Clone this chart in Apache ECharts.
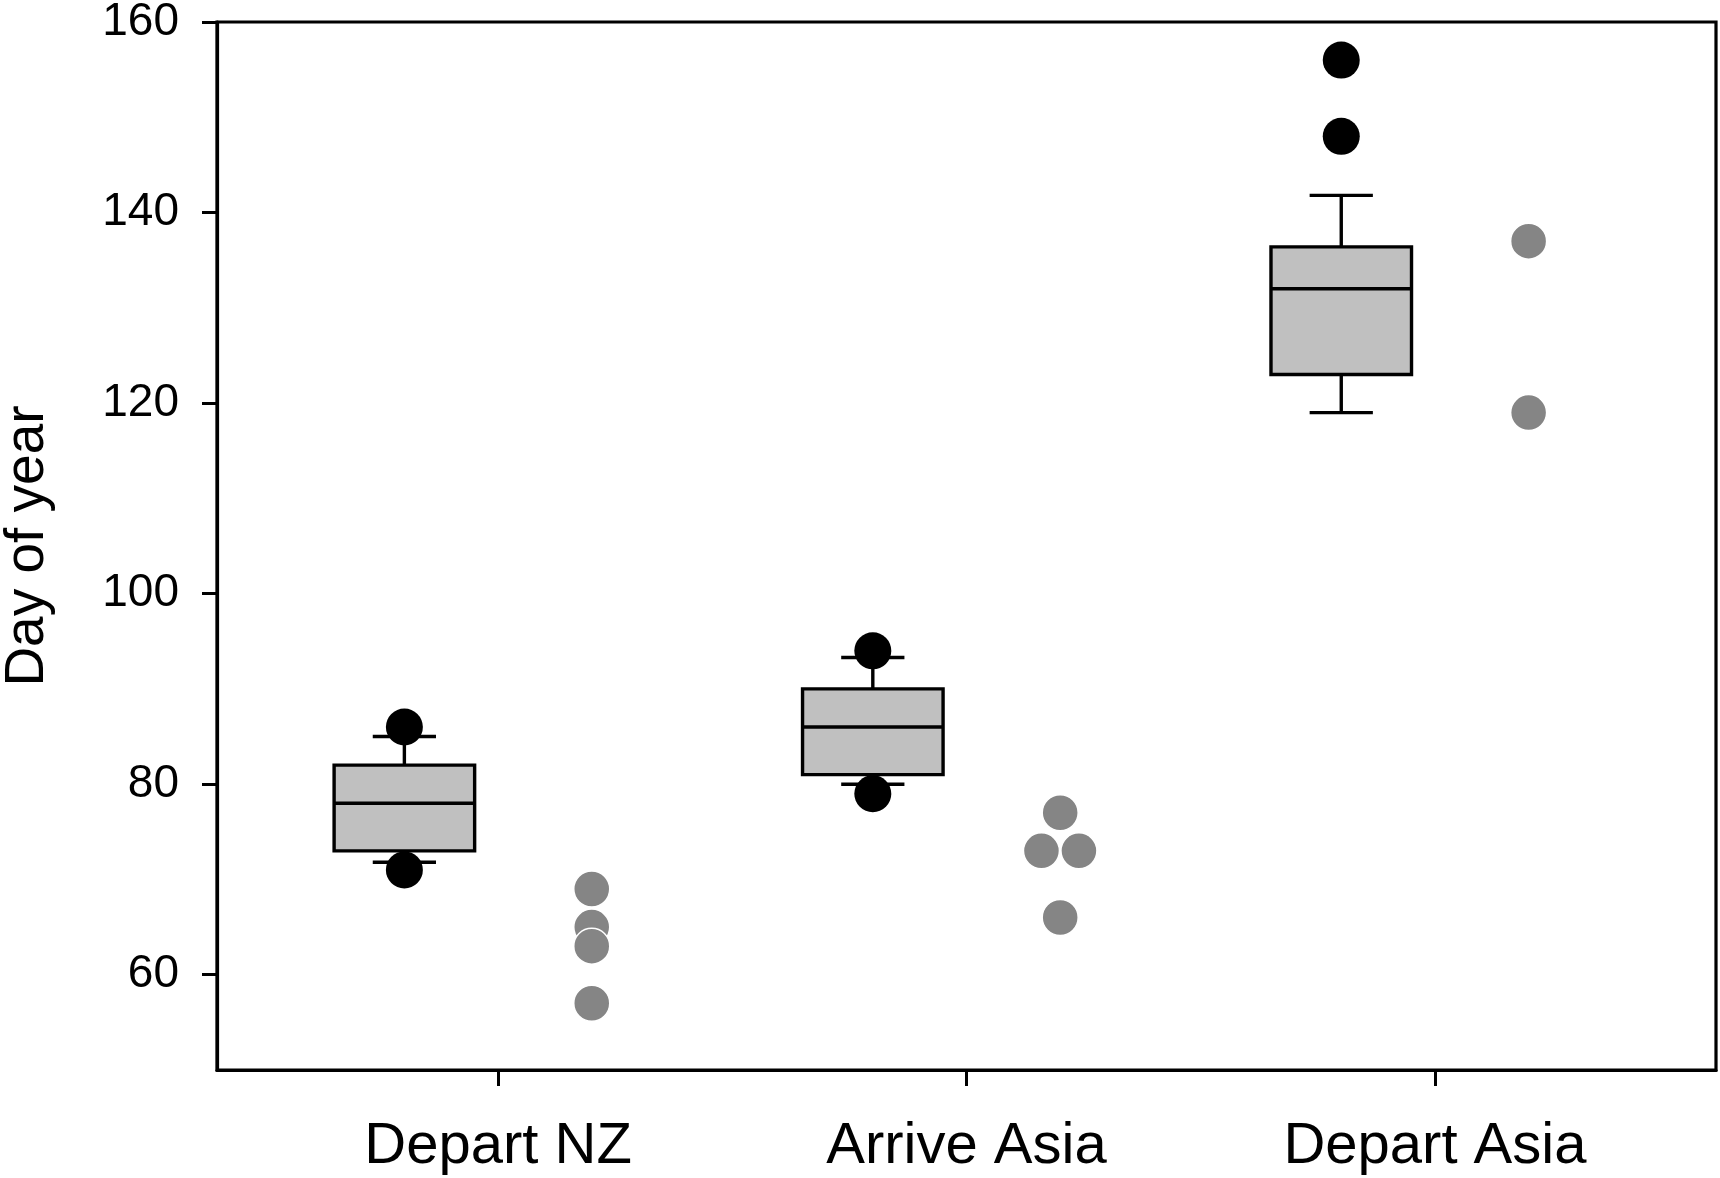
<!DOCTYPE html>
<html>
<head>
<meta charset="utf-8">
<script src="https://cdn.jsdelivr.net/npm/echarts@6/dist/echarts.min.js"></script>
<style>
  html, body { margin: 0; padding: 0; background: #fff; }
  #chart { width: 1720px; height: 1178px; }
</style>
</head>
<body>
<div id="chart"></div>
<script>
// values
const categories = ['Depart NZ', 'Arrive Asia', 'Depart Asia'];
const whiskerLow = [71.8, 80, 119];
const boxQ1 = [73, 81, 123];
const boxMedian = [78, 86, 132];
const boxQ3 = [82, 90, 136.4];
const whiskerHigh = [85, 93.3, 141.8];
const outliers = [[86, 71], [94, 79], [156, 148]];
const greyPoints = [[69, 65, 63, 57], [77, 73, 73, 66], [137, 119]];
const yTicks = [60, 80, 100, 120, 140, 160];

const FONT = 'Arial, "Liberation Sans", sans-serif';
const BOX_SHIFT = -0.2;   // boxes sit left of the category tick
const GREY_SHIFT = 0.2;   // grey dots sit right of it
const DODGE = 0.04;       // equal grey values are set side by side

const boxData = categories.map((c, i) => [
  i + 1 + BOX_SHIFT, whiskerLow[i], boxQ1[i], boxMedian[i], boxQ3[i], whiskerHigh[i]
]);

const outlierData = [];
outliers.forEach((vals, i) => {
  vals.forEach(v => outlierData.push([i + 1 + BOX_SHIFT, v]));
});

const greyData = [];
greyPoints.forEach((vals, i) => {
  vals.forEach((v, j) => {
    const same = vals.filter(w => w === v).length;
    let dx = 0;
    if (same > 1) {
      const k = vals.slice(0, j).filter(w => w === v).length;
      dx = (k - (same - 1) / 2) * 2 * DODGE;
    }
    greyData.push([i + 1 + GREY_SHIFT + dx, v]);
  });
});

const chart = echarts.init(document.getElementById('chart'));

const lineStyle = {stroke: '#000', lineWidth: 3.4};

chart.setOption({
  animation: false,
  backgroundColor: '#fff',
  grid: {
    left: 217, right: 4, top: 22, bottom: 108,
    containLabel: false, outerBoundsMode: 'none',
    show: true, borderColor: '#000', borderWidth: 3.2
  },
  xAxis: {
    type: 'value',
    min: 0.4,
    max: 3.6,
    splitLine: {show: false},
    axisLine: {show: true, lineStyle: {color: '#000', width: 3.2}},
    axisTick: {show: true, length: 16, customValues: [1, 2, 3], lineStyle: {color: '#000', width: 3}},
    axisLabel: {
      customValues: [1, 2, 3],
      formatter: v => categories[Math.round(v) - 1],
      color: '#000',
      fontFamily: FONT,
      fontSize: 58,
      margin: 48
    }
  },
  yAxis: {
    type: 'value',
    min: 50,
    max: 160,
    name: 'Day of year',
    nameLocation: 'middle',
    nameGap: 162,
    nameTextStyle: {color: '#000', fontFamily: FONT, fontSize: 55},
    splitLine: {show: false},
    axisLine: {show: true, lineStyle: {color: '#000', width: 3.2}},
    axisTick: {show: true, length: 15, customValues: yTicks, lineStyle: {color: '#000', width: 3}},
    axisLabel: {
      customValues: yTicks,
      color: '#000',
      fontFamily: FONT,
      fontSize: 46,
      margin: 38
    }
  },
  series: [{
    type: 'custom',
    data: boxData,
    z: 2,
    renderItem: function (params, api) {
      const x = api.value(0);
      const half = 0.15;
      const cap = 0.0675;
      const low = api.coord([x, api.value(1)]);
      const q1 = api.coord([x, api.value(2)]);
      const med = api.coord([x, api.value(3)]);
      const q3 = api.coord([x, api.value(4)]);
      const high = api.coord([x, api.value(5)]);
      const bl = api.coord([x - half, api.value(3)])[0];
      const br = api.coord([x + half, api.value(3)])[0];
      const cl = api.coord([x - cap, api.value(3)])[0];
      const cr = api.coord([x + cap, api.value(3)])[0];
      return {
        type: 'group',
        children: [
          {type: 'line', shape: {x1: low[0], y1: low[1], x2: q1[0], y2: q1[1]}, style: lineStyle},
          {type: 'line', shape: {x1: q3[0], y1: q3[1], x2: high[0], y2: high[1]}, style: lineStyle},
          {type: 'line', shape: {x1: cl, y1: low[1], x2: cr, y2: low[1]}, style: lineStyle},
          {type: 'line', shape: {x1: cl, y1: high[1], x2: cr, y2: high[1]}, style: lineStyle},
          {type: 'rect', shape: {x: bl, y: q3[1], width: br - bl, height: q1[1] - q3[1]},
            style: {fill: '#c0c0c0', stroke: '#000', lineWidth: 3.4}},
          {type: 'line', shape: {x1: bl, y1: med[1], x2: br, y2: med[1]}, style: lineStyle}
        ]
      };
    }
  }, {
    type: 'scatter',
    data: outlierData,
    z: 3,
    symbol: 'circle',
    symbolSize: 37,
    itemStyle: {color: '#000', opacity: 1}
  }, {
    type: 'scatter',
    data: greyData,
    z: 3,
    symbol: 'circle',
    symbolSize: 36,
    itemStyle: {color: '#858585', borderColor: '#fff', borderWidth: 1.5, opacity: 1}
  }]
});
</script>
</body>
</html>
